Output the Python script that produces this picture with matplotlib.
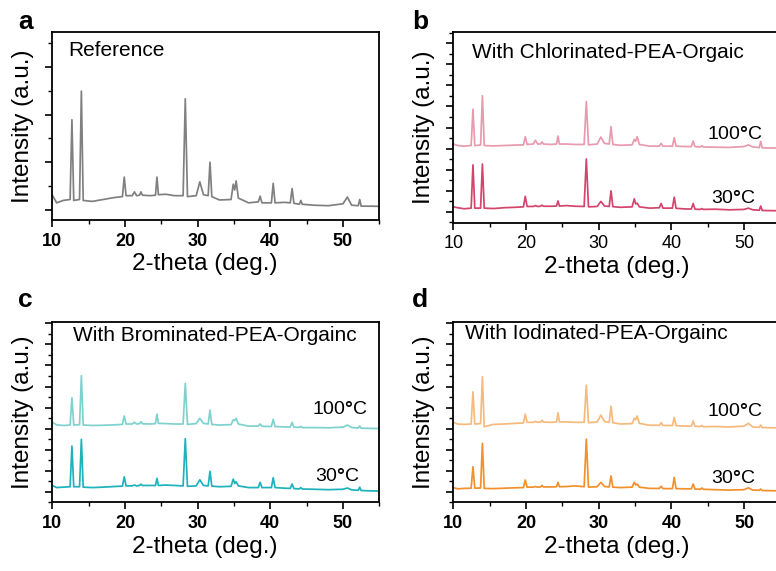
import matplotlib
matplotlib.use("Agg")
import matplotlib.pyplot as plt
from matplotlib.ticker import MultipleLocator

plt.rcParams["font.family"] = ["Liberation Sans", "DejaVu Sans"]
plt.rcParams["mathtext.fontset"] = "custom"
plt.rcParams["mathtext.rm"] = "Liberation Sans"
plt.rcParams["mathtext.bf"] = "Liberation Sans:bold"

# 2-theta sampling positions (deg.) shared by all patterns
two_theta = [10.0, 10.6, 11.5, 12.45, 12.7, 12.95, 13.75, 14.0, 14.25, 15.5,
             17.0, 18.5, 19.65, 19.9, 20.15, 21.0, 21.3, 21.6, 22.0, 22.2,
             22.4, 23.5, 24.2, 24.4, 24.6, 25.6, 26.8, 28.0, 28.3, 28.6,
             29.8, 30.3, 30.8, 31.45, 31.7, 31.95, 33.0, 34.6, 34.9, 35.1,
             35.3, 35.6, 37.0, 38.35, 38.6, 38.85, 40.15, 40.4, 40.65, 42.0,
             42.75, 43.0, 43.25, 44.0, 44.2, 44.4, 46.0, 48.0, 50.0, 50.6,
             51.2, 52.1, 52.3, 52.5, 54.0, 56.5]

# (a) reference film
int_reference = [0.31, 0.15, 0.20, 0.22, 1.89, 0.20, 0.22, 2.49, 0.20, 0.18,
                 0.22, 0.26, 0.28, 0.69, 0.30, 0.30, 0.38, 0.30, 0.31, 0.38,
                 0.31, 0.30, 0.31, 0.69, 0.32, 0.33, 0.30, 0.30, 2.33, 0.28,
                 0.30, 0.59, 0.32, 0.30, 1.00, 0.28, 0.21, 0.22, 0.54, 0.42,
                 0.61, 0.25, 0.15, 0.17, 0.29, 0.15, 0.15, 0.56, 0.15, 0.16,
                 0.15, 0.45, 0.14, 0.12, 0.20, 0.12, 0.10, 0.09, 0.13, 0.27,
                 0.10, 0.09, 0.22, 0.08, 0.08, 0.07]

# (b) chlorinated PEA
int_cl_30 = [0.24, 0.20, 0.15, 0.18, 2.23, 0.18, 0.18, 2.27, 0.18, 0.16,
             0.20, 0.22, 0.24, 0.74, 0.26, 0.26, 0.30, 0.26, 0.27, 0.32,
             0.27, 0.27, 0.28, 0.52, 0.28, 0.30, 0.27, 0.26, 2.51, 0.24,
             0.26, 0.50, 0.28, 0.26, 1.00, 0.25, 0.22, 0.24, 0.62, 0.38,
             0.42, 0.24, 0.18, 0.20, 0.40, 0.18, 0.18, 0.70, 0.17, 0.14,
             0.14, 0.40, 0.13, 0.12, 0.16, 0.12, 0.13, 0.10, 0.12, 0.18,
             0.10, 0.08, 0.28, 0.07, 0.06, 0.05]
int_cl_100 = [3.22, 3.15, 3.12, 3.15, 4.87, 3.15, 3.17, 5.51, 3.15, 3.13,
              3.15, 3.17, 3.18, 3.57, 3.20, 3.22, 3.40, 3.22, 3.22, 3.32,
              3.22, 3.20, 3.22, 3.60, 3.22, 3.22, 3.20, 3.20, 5.23, 3.18,
              3.22, 3.55, 3.25, 3.22, 4.04, 3.20, 3.16, 3.18, 3.44, 3.35,
              3.57, 3.20, 3.12, 3.12, 3.25, 3.12, 3.12, 3.52, 3.12, 3.10,
              3.10, 3.36, 3.10, 3.08, 3.14, 3.08, 3.07, 3.06, 3.10, 3.18,
              3.08, 3.05, 3.35, 3.04, 3.03, 3.02]

# (c) brominated PEA
int_br_30 = [0.30, 0.20, 0.22, 0.24, 2.17, 0.24, 0.24, 2.49, 0.22, 0.20,
             0.22, 0.25, 0.27, 0.71, 0.28, 0.28, 0.32, 0.28, 0.30, 0.36,
             0.30, 0.30, 0.30, 0.64, 0.30, 0.32, 0.30, 0.28, 2.52, 0.26,
             0.28, 0.57, 0.30, 0.28, 0.98, 0.27, 0.24, 0.26, 0.60, 0.40,
             0.48, 0.28, 0.20, 0.20, 0.45, 0.20, 0.20, 0.67, 0.20, 0.17,
             0.16, 0.37, 0.15, 0.14, 0.20, 0.13, 0.12, 0.10, 0.12, 0.18,
             0.09, 0.07, 0.22, 0.06, 0.04, 0.03]
int_br_100 = [3.30, 3.18, 3.15, 3.17, 4.47, 3.17, 3.19, 5.51, 3.17, 3.15,
              3.16, 3.18, 3.20, 3.60, 3.22, 3.22, 3.30, 3.22, 3.23, 3.33,
              3.23, 3.22, 3.24, 3.69, 3.25, 3.24, 3.22, 3.22, 5.15, 3.20,
              3.24, 3.49, 3.25, 3.22, 3.88, 3.20, 3.17, 3.19, 3.42, 3.38,
              3.49, 3.22, 3.12, 3.12, 3.22, 3.11, 3.10, 3.44, 3.10, 3.08,
              3.08, 3.30, 3.07, 3.06, 3.10, 3.05, 3.05, 3.04, 3.07, 3.17,
              3.05, 3.03, 3.12, 3.02, 3.01, 3.00]

# (d) iodinated PEA
int_i_30 = [0.20, 0.14, 0.16, 0.17, 1.19, 0.17, 0.18, 2.30, 0.16, 0.15,
            0.17, 0.19, 0.20, 0.56, 0.22, 0.22, 0.25, 0.22, 0.23, 0.30,
            0.23, 0.23, 0.24, 0.45, 0.24, 0.25, 0.28, 0.24, 2.50, 0.22,
            0.24, 0.45, 0.25, 0.23, 0.75, 0.22, 0.20, 0.22, 0.45, 0.32,
            0.37, 0.22, 0.16, 0.16, 0.26, 0.15, 0.15, 0.68, 0.15, 0.14,
            0.14, 0.37, 0.13, 0.12, 0.18, 0.12, 0.10, 0.08, 0.10, 0.19,
            0.08, 0.07, 0.13, 0.06, 0.05, 0.05]
int_i_100 = [3.30, 3.22, 3.20, 3.22, 4.75, 3.22, 3.24, 5.46, 3.09, 3.20,
             3.22, 3.25, 3.27, 3.69, 3.30, 3.30, 3.34, 3.30, 3.31, 3.40,
             3.31, 3.30, 3.32, 3.75, 3.32, 3.32, 3.30, 3.30, 5.07, 3.28,
             3.32, 3.64, 3.34, 3.30, 4.07, 3.28, 3.22, 3.24, 3.49, 3.42,
             3.60, 3.25, 3.16, 3.16, 3.28, 3.15, 3.15, 3.53, 3.14, 3.12,
             3.12, 3.36, 3.11, 3.10, 3.15, 3.09, 3.10, 3.08, 3.12, 3.25,
             3.08, 3.06, 3.17, 3.05, 3.04, 3.03]

panel_letters = ["a", "b", "c", "d"]
panel_titles = ["Reference", "With Chlorinated-PEA-Orgaic",
                "With Brominated-PEA-Orgainc", "With Iodinated-PEA-Orgainc"]
temp_labels = ["100$\\mathbf{\u00b0}$C", "30$\\mathbf{\u00b0}$C"]

fig = plt.figure(figsize=(7.76, 5.71), dpi=100)

W = 0.4214
boxes = [
    [0.0674, 0.6147, W, 0.3292],
    [0.5842, 0.6100, W, 0.3335],
    [0.0674, 0.1203, W, 0.3163],
    [0.5842, 0.1203, W, 0.3163],
]
ylims = [(-0.21, 3.73), (-0.51, 8.52), (-0.50, 8.08), (-0.50, 8.08)]
bold_ticks = [True, False, True, True]

series = [
    [(int_reference, "#808080")],
    [(int_cl_100, "#E89AAE"), (int_cl_30, "#D4446C")],
    [(int_br_100, "#7ED2CD"), (int_br_30, "#1DB2BC")],
    [(int_i_100, "#F6BA7C"), (int_i_30, "#F2902C")],
]
title_pos = [(0.048, 0.904), (0.057, 0.895), (0.064, 0.926), (0.036, 0.936)]
temp_pos = [None,
            [(48.7, 3.65), (48.6, 0.66)],
            [(49.6, 3.93), (49.2, 0.71)],
            [(48.7, 3.80), (48.6, 0.64)]]
xlabel_x = [0.467, 0.5, 0.467, 0.5]
letter_pos = [(18, 22), (412, 22), (18, 300), (412, 300)]

for i in range(4):
    ax = fig.add_axes(boxes[i])
    for ydata, color in series[i]:
        ax.plot(two_theta, ydata, color=color, lw=1.25)
    ax.set_xlim(10, 55)
    ax.set_ylim(*ylims[i])
    ax.xaxis.set_major_locator(MultipleLocator(10))
    ax.xaxis.set_minor_locator(MultipleLocator(5))
    ax.yaxis.set_major_locator(MultipleLocator(1))
    ax.yaxis.set_minor_locator(MultipleLocator(0.5))
    ax.tick_params(which="major", direction="out", length=5, width=1.2,
                   labelsize=13, pad=4)
    ax.tick_params(which="minor", direction="out", length=3, width=1.0)
    ax.tick_params(axis="y", which="both", labelleft=False)
    for lab in ax.get_xticklabels():
        lab.set_fontweight("bold" if bold_ticks[i] else "normal")
    for s in ax.spines.values():
        s.set_linewidth(1.3)
    ax.set_xlabel("2-theta (deg.)", fontsize=17.5, labelpad=2)
    ax.xaxis.set_label_coords(xlabel_x[i], -0.175 if i in (0, 1) else -0.185)
    ax.set_ylabel("Intensity (a.u.)", fontsize=17.5, labelpad=8)
    ax.text(title_pos[i][0], title_pos[i][1], panel_titles[i],
            transform=ax.transAxes, fontsize=15, ha="left", va="center")
    if temp_pos[i] is not None:
        for lbl, (tx, ty) in zip(temp_labels, temp_pos[i]):
            ax.text(tx, ty, lbl, fontsize=14, ha="center", va="center")
    fig.text(letter_pos[i][0] / 776, 1 - letter_pos[i][1] / 571,
             panel_letters[i], fontsize=19, fontweight="bold",
             ha="left", va="center")

fig.savefig("out.png", dpi=100)
